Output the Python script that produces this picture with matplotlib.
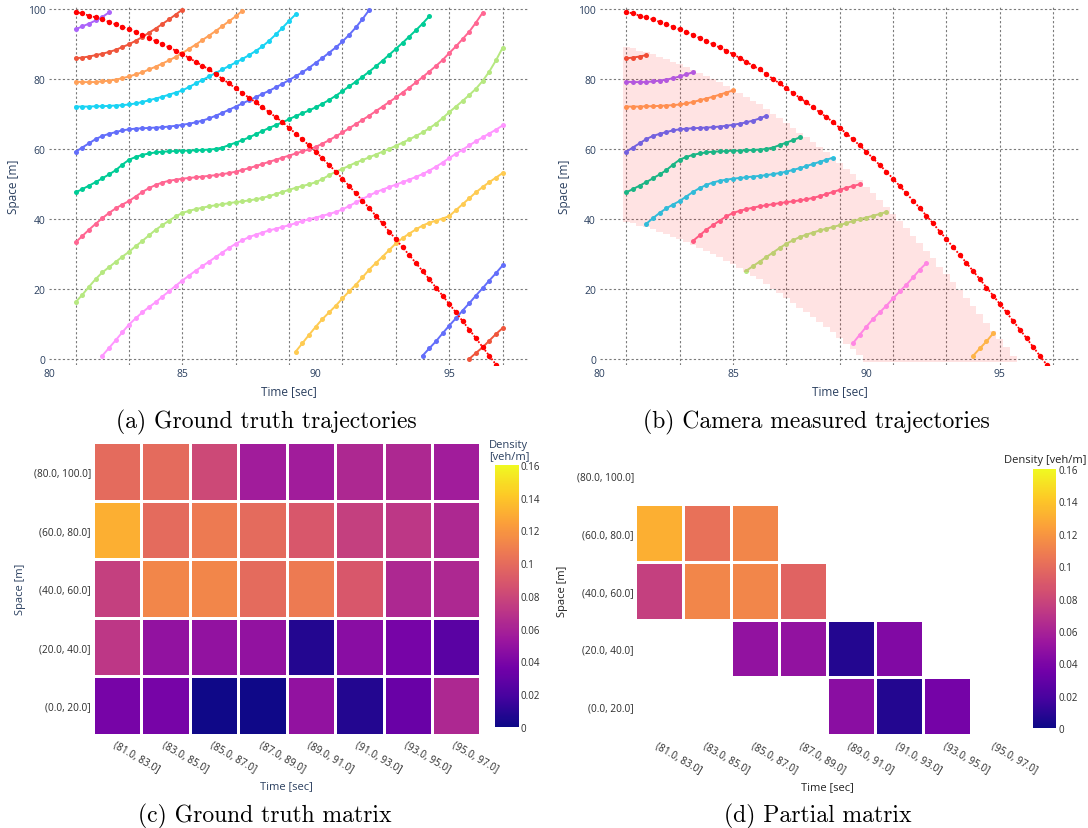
import numpy as np
import matplotlib
matplotlib.use("Agg")
import matplotlib.pyplot as plt
from matplotlib.colors import LinearSegmentedColormap

# sampling step of every trajectory [sec]
dt = 0.25

# ground truth trajectories: time of the first sample and positions [m] every dt
veh_t0 = [81.0, 81.0, 81.0, 81.0, 81.0, 81.0, 81.0, 81.0, 82.0, 89.25, 94.0, 95.75]

veh0 = [59.3, 60.5, 61.7, 62.9, 63.8, 64.4, 64.9, 65.4, 65.7, 65.9, 66.0, 66.1,
        66.2, 66.3, 66.5, 66.7, 67.0, 67.3, 67.7, 68.2, 68.8, 69.6, 70.4, 71.3,
        72.2, 73.1, 74.0, 74.9, 75.8, 76.7, 77.7, 78.7, 79.8, 80.9, 82.0, 83.3,
        84.7, 86.1, 87.6, 89.1, 90.8, 92.7, 94.8, 97.2, 99.8]
veh1 = [86.0, 86.2, 86.5, 86.9, 87.3, 87.8, 88.4, 89.2, 90.0, 91.0, 92.1, 93.3,
        94.5, 95.8, 97.1, 98.5, 99.9]
veh2 = [47.7, 48.6, 49.6, 50.6, 51.7, 52.8, 54.0, 55.6, 57.0, 57.8, 58.4, 58.8,
        59.1, 59.3, 59.4, 59.5, 59.6, 59.6, 59.7, 59.8, 59.9, 60.1, 60.5, 61.2,
        61.9, 62.6, 63.4, 64.3, 65.2, 66.1, 66.9, 67.7, 68.6, 69.5, 70.3, 71.1,
        72.0, 73.0, 74.1, 75.3, 76.6, 78.0, 79.3, 80.7, 82.2, 83.7, 85.3, 87.0,
        88.7, 90.4, 92.2, 94.0, 95.9, 98.0]
veh3 = [94.3, 95.1, 95.9, 96.8, 97.8, 99.1]
veh4 = [79.3, 79.2, 79.2, 79.2, 79.4, 79.6, 79.9, 80.3, 80.8, 81.4, 82.0, 82.8,
        83.6, 84.5, 85.4, 86.4, 87.5, 88.7, 89.9, 91.2, 92.5, 93.8, 95.2, 96.6,
        98.0, 99.6]
veh5 = [72.2, 72.2, 72.2, 72.3, 72.3, 72.4, 72.5, 72.6, 72.8, 73.1, 73.5, 74.0,
        74.5, 75.0, 75.6, 76.2, 76.8, 77.8, 78.8, 79.8, 80.8, 81.8, 82.8, 83.8,
        84.8, 85.8, 86.9, 88.1, 89.4, 91.0, 92.8, 94.7, 96.7, 98.6]
veh6 = [33.4, 35.2, 37.0, 38.7, 40.3, 41.8, 43.1, 44.2, 45.2, 46.5, 47.8, 48.9,
        49.8, 50.5, 51.0, 51.3, 51.6, 51.8, 52.0, 52.2, 52.4, 52.6, 52.9, 53.2,
        53.6, 54.1, 54.6, 55.2, 55.8, 56.4, 57.0, 57.6, 58.2, 58.8, 59.4, 60.0,
        60.7, 61.6, 62.6, 63.7, 64.8, 66.0, 67.2, 68.4, 69.6, 70.9, 72.2, 73.5,
        74.8, 76.2, 77.6, 79.1, 80.6, 82.2, 83.8, 85.5, 87.5, 89.4, 91.5, 93.6,
        96.2, 99.0]
veh7 = [16.3, 18.4, 20.7, 22.9, 24.8, 26.3, 27.8, 29.3, 30.7, 32.3, 33.8, 35.4,
        37.0, 38.3, 39.6, 40.8, 41.8, 42.4, 42.9, 43.3, 43.7, 44.0, 44.3, 44.6,
        44.9, 45.1, 45.4, 45.7, 46.1, 46.6, 47.2, 47.8, 48.4, 49.0, 49.5, 50.0,
        50.6, 51.5, 52.6, 53.6, 54.4, 55.3, 56.2, 56.9, 57.7, 58.5, 59.3, 60.1,
        61.0, 61.9, 62.8, 63.8, 64.8, 66.0, 67.3, 68.9, 70.6, 72.2, 73.8, 75.5,
        77.3, 79.5, 82.2, 85.4, 89.0]
veh8 = [1.0, 3.2, 5.4, 7.7, 9.9, 11.7, 13.4, 14.9, 16.3, 17.9, 19.4, 21.0,
        22.5, 23.9, 25.3, 26.6, 27.9, 29.2, 30.5, 31.8, 33.0, 34.0, 34.9, 35.6,
        36.2, 36.8, 37.3, 37.8, 38.3, 38.9, 39.5, 40.0, 40.5, 41.0, 41.5, 42.1,
        42.8, 43.8, 44.8, 45.8, 46.8, 47.7, 48.5, 49.2, 49.9, 50.6, 51.3, 52.1,
        52.9, 53.9, 55.0, 56.2, 57.5, 58.7, 59.9, 61.1, 62.3, 63.4, 64.5, 65.6,
        66.8]
veh9 = [2.2, 4.6, 7.0, 9.3, 11.5, 13.4, 15.3, 17.4, 19.4, 21.3, 23.4, 25.6,
        27.5, 29.3, 31.2, 33.1, 34.6, 35.9, 37.1, 38.2, 39.0, 39.6, 40.2, 40.9,
        42.6, 44.3, 46.0, 47.7, 49.2, 50.6, 51.9, 53.2]
veh10 = [1.0, 3.1, 5.1, 7.4, 9.6, 11.7, 13.9, 16.0, 18.2, 20.3, 22.5, 24.6, 26.8]
veh11 = [0.1, 1.8, 3.4, 5.3, 7.2, 8.9]

vehicles = [veh0, veh1, veh2, veh3, veh4, veh5, veh6, veh7, veh8, veh9, veh10, veh11]

# probe vehicle carrying the camera (drives the other way)
cam_t0 = 81.0
cam_pos = [99.3, 98.8, 98.2, 97.7, 97.1, 96.4, 95.7, 95.0, 94.3, 93.5, 92.7, 91.8,
           90.9, 90.0, 89.1, 88.2, 87.2, 86.1, 85.0, 83.9, 82.8, 81.5, 80.1, 78.8,
           77.4, 76.1, 74.7, 73.4, 72.0, 70.6, 69.2, 67.8, 66.1, 64.5, 62.8, 61.1,
           59.3, 57.4, 55.5, 53.6, 51.6, 49.5, 47.4, 45.3, 43.2, 41.0, 38.8, 36.5,
           34.3, 32.0, 29.8, 27.5, 25.2, 22.9, 20.5, 18.2, 15.8, 13.4, 10.9, 8.5,
           6.0, 3.5, 1.0, -1.5, -4.0]

# camera field of view, distance behind the probe vehicle [m]
view_near = 10
view_far = 60
view_floor = -0.8

# density matrices, rows follow space_bins (bottom to top)
time_bins = ["(81.0, 83.0]", "(83.0, 85.0]", "(85.0, 87.0]", "(87.0, 89.0]",
             "(89.0, 91.0]", "(91.0, 93.0]", "(93.0, 95.0]", "(95.0, 97.0]"]
space_bins = ["(0.0, 20.0]", "(20.0, 40.0]", "(40.0, 60.0]", "(60.0, 80.0]", "(80.0, 100.0]"]

gt_density = [
    [0.038, 0.038, 0.001, 0.001, 0.049, 0.007, 0.032, 0.063],
    [0.071, 0.049, 0.049, 0.049, 0.007, 0.045, 0.038, 0.026],
    [0.076, 0.113, 0.113, 0.099, 0.107, 0.089, 0.063, 0.063],
    [0.131, 0.099, 0.107, 0.099, 0.089, 0.076, 0.071, 0.063],
    [0.099, 0.099, 0.081, 0.056, 0.056, 0.063, 0.063, 0.056],
]
nan = np.nan
partial_density = [
    [nan, nan, nan, nan, 0.046, 0.007, 0.037, nan],
    [nan, nan, 0.049, 0.049, 0.007, 0.042, nan, nan],
    [0.076, 0.113, 0.113, 0.095, nan, nan, nan, nan],
    [0.131, 0.102, 0.113, nan, nan, nan, nan, nan],
    [nan, nan, nan, nan, nan, nan, nan, nan],
]
cbar_ticks = [0, 0.02, 0.04, 0.06, 0.08, 0.1, 0.12, 0.14, 0.16]
cbar_labels = ["0", "0.02", "0.04", "0.06", "0.08", "0.1", "0.12", "0.14", "0.16"]

palette = ['#636EFA', '#EF553B', '#00CC96', '#AB63FA', '#FFA15A',
           '#19D3F3', '#FF6692', '#B6E880', '#FF97FF', '#FECB52']
plasma = LinearSegmentedColormap.from_list(
    "plotly_plasma", ['#0d0887', '#46039f', '#7201a8', '#9c179e', '#bd3786',
                      '#d8576b', '#ed7953', '#fb9f3a', '#fdca26', '#f0f921'])

TXT = '#2a3f5f'
GRID = '#7a7a7a'
W, H = 1088, 829

plt.rcParams['font.family'] = ['Open Sans', 'DejaVu Sans']

fig = plt.figure(figsize=(W / 100, H / 100), dpi=100)


def rect(x0, y0, x1, y1):
    return [x0 / W, 1 - y1 / H, (x1 - x0) / W, (y1 - y0) / H]


def put(x, y, s, **kw):
    kw.setdefault('ha', 'center')
    kw.setdefault('va', 'center')
    fig.text(x / W, 1 - y / H, s, **kw)


def traj_axes(r):
    ax = fig.add_axes(r)
    ax.set_xlim(80, 98)
    ax.set_ylim(-1.5, 100.6)
    for s in ax.spines.values():
        s.set_visible(False)
    ax.set_xticks([80, 85, 90, 95])
    ax.set_yticks(range(0, 101, 20))
    ax.tick_params(length=0, labelsize=7.5, labelcolor=TXT, pad=2.5)
    for v in range(0, 101, 20):
        ax.axhline(v, color=GRID, lw=0.8, ls=(0, (2, 2)), zorder=0)
    for t in range(81, 98, 2):
        ax.axvline(t, color=GRID, lw=0.8, ls=(0, (2, 2)), zorder=0)
    return ax


cam = np.array(cam_pos)
cam_t = cam_t0 + dt * np.arange(len(cam))
line_kw = dict(lw=1.4, marker='o', ms=3.6, mew=0, zorder=2)
cam_kw = dict(color='red', ls=(0, (1.0, 1.0)), lw=1.3, marker='o', ms=3.9, mew=0, zorder=3)

# (a) ground truth trajectories
ax_a = traj_axes(rect(48.9, 8.2, 529.3, 365.5))
for i, pos in enumerate(vehicles):
    t = veh_t0[i] + dt * np.arange(len(pos))
    ax_a.plot(t, pos, color=palette[i % 10], **line_kw)
ax_a.plot(cam_t, cam, **cam_kw)

# (b) what the camera sees
ax_b = traj_axes(rect(599.5, 8.2, 1079.9, 365.5))
k = 0
for i, pos in enumerate(vehicles):
    x = np.array(pos)
    t = veh_t0[i] + dt * np.arange(len(x))
    ref = np.interp(t, cam_t, cam)
    seen = (x >= ref - view_far) & (x <= ref - view_near)
    if not seen.any():
        continue
    ax_b.plot(t[seen], x[seen], color=palette[k % 10], **line_kw)
    k += 1

top = cam - view_near
bot = np.maximum(cam - view_far, view_floor)
keep = top > bot
edges = np.append(cam_t[keep] - dt / 2, cam_t[keep][-1] + dt / 2)
ax_b.fill_between(edges, np.append(bot[keep], bot[keep][-1]),
                  np.append(top[keep], top[keep][-1]), step='post',
                  color='red', alpha=0.11, lw=0, zorder=2.5)
ax_b.plot(cam_t, cam, **cam_kw)

for xl, xt in [(13.9, 289), (564.8, 840)]:
    put(xl, 186.5, "Space [m]", rotation=90, fontsize=8.5, color=TXT)
    put(xt, 392, "Time [sec]", fontsize=8.5, color=TXT)


def heat_axes(r, data, tick_col, pad_y):
    ax = fig.add_axes(r)
    mesh = ax.pcolormesh(np.arange(9), np.arange(6), np.ma.masked_invalid(np.array(data)),
                         cmap=plasma, vmin=0, vmax=0.16, edgecolors='white', linewidth=1.0)
    ax.set_xlim(0, 8)
    ax.set_ylim(0, 5)
    for s in ax.spines.values():
        s.set_visible(False)
    ax.set_xticks(np.arange(8) + 0.5)
    ax.set_xticklabels(time_bins, rotation=-30, ha='left', va='top',
                       rotation_mode='anchor', fontsize=7.3, color=tick_col)
    ax.set_yticks(np.arange(5) + 0.5)
    ax.set_yticklabels(space_bins, fontsize=7.3, color=tick_col)
    ax.tick_params(axis='x', length=0, pad=3)
    ax.tick_params(axis='y', length=0, pad=pad_y)
    return mesh


def colorbar(mesh, r, tick_col):
    cax = fig.add_axes(r)
    cb = fig.colorbar(mesh, cax=cax)
    cb.outline.set_visible(False)
    cb.set_ticks(cbar_ticks)
    cb.set_ticklabels(cbar_labels)
    cax.tick_params(length=0, labelsize=7, labelcolor=tick_col, pad=1.5)


# (c) ground truth matrix
m_c = heat_axes(rect(93, 443.3, 480.4, 735.7), gt_density, '#2b2b2b', 1.5)
colorbar(m_c, rect(495, 466, 518.6, 727.7), '#2b2b2b')
put(489, 451.3, "Density\n[veh/m]", ha='left', fontsize=8, color=TXT, linespacing=1.0)
put(20.8, 589.3, "Space [m]", rotation=90, fontsize=8, color=TXT)
put(286.5, 786.7, "Time [sec]", fontsize=8, color=TXT)

# (d) partial matrix
m_d = heat_axes(rect(635.3, 447.3, 1018.5, 736), partial_density, '#2b2b2b', 1.0)
colorbar(m_d, rect(1033.3, 470, 1056.2, 729.3), '#2b2b2b')
put(1045, 461, "Density [veh/m]", fontsize=8, color='#222222')
put(563, 591.7, "Space [m]", rotation=90, fontsize=8, color='#222222')
put(827, 787.3, "Time [sec]", fontsize=8, color='#222222')

# sub-figure captions
cap = dict(fontfamily='cmr10', fontsize=17, color='black')
put(266, 422, "(a) Ground truth trajectories", **cap)
put(816, 422, "(b) Camera measured trajectories", **cap)
put(265, 816.5, "(c) Ground truth matrix", **cap)
put(818, 816.5, "(d) Partial matrix", **cap)

fig.savefig("out.png", dpi=100)
